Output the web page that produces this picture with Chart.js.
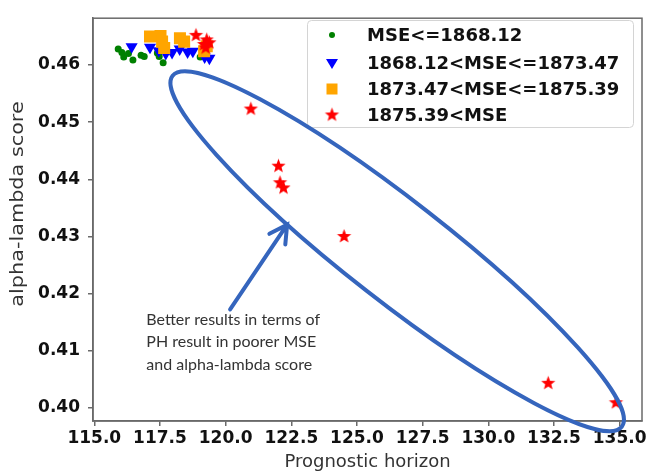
<!DOCTYPE html>
<html lang="en">
<head>
<meta charset="UTF-8">
<title>alpha-lambda score vs prognostic horizon</title>
<script src="https://cdn.jsdelivr.net/npm/chart.js"></script>
<style>
    html, body { margin: 0; padding: 0; background: #fff; }
    #wrap { width: 657px; height: 474px; }
</style>
</head>
<body>
<div id="wrap"><canvas id="scatterChart" width="657" height="474"></canvas></div>
<script>
// groups by MSE
const groupLabels = ['MSE<=1868.12', '1868.12<MSE<=1873.47', '1873.47<MSE<=1875.39', '1875.39<MSE'];

const greenX = [115.91, 116.05, 116.12, 116.30, 116.47, 116.78, 116.90, 117.40, 117.47, 117.62, 119.03];
const greenY = [0.4628, 0.4622, 0.4614, 0.4620, 0.4609, 0.4617, 0.4615, 0.4621, 0.4615, 0.4604, 0.4614];

const blueX = [116.42, 117.12, 117.45, 117.72, 117.96, 118.25, 118.55, 118.75, 119.20, 119.38];
const blueY = [0.4632, 0.4631, 0.4625, 0.4620, 0.4622, 0.4628, 0.4623, 0.4624, 0.4614, 0.4612];

const orangeX = [117.12, 117.52, 117.58, 117.66, 118.26, 118.42, 119.18, 119.28];
const orangeY = [0.4650, 0.4651, 0.4641, 0.4630, 0.4647, 0.4641, 0.4624, 0.4633];

const redX = [118.87, 119.28, 119.18, 119.38, 119.24, 120.96, 122.01, 122.07, 122.20, 124.51, 132.28, 134.86];
const redY = [0.4652, 0.4644, 0.4636, 0.4639, 0.4630, 0.4523, 0.4423, 0.4394, 0.4385, 0.4300, 0.4043, 0.4009];

// axis ticks
const xTicks = [115.0, 117.5, 120.0, 122.5, 125.0, 127.5, 130.0, 132.5, 135.0];
const yTicks = [0.40, 0.41, 0.42, 0.43, 0.44, 0.45, 0.46];

const yTitle = 'alpha-lambda score';
const noteLines = ['Better results in terms of', 'PH result in poorer MSE', 'and alpha-lambda score'];

function toPoints(xs, ys) {
    return xs.map((x, i) => ({ x: x, y: ys[i] }));
}

// filled star marker (Chart.js "star" is only lines)
function makeStar(color, r) {
    const c = document.createElement('canvas');
    const s = Math.ceil(r * 2 + 2);
    c.width = s; c.height = s;
    const g = c.getContext('2d');
    g.fillStyle = color;
    g.beginPath();
    for (let i = 0; i < 10; i++) {
        const rr = i % 2 === 0 ? r : r * 0.42;
        const a = -Math.PI / 2 + i * Math.PI / 5;
        const px = s / 2 + Math.cos(a) * rr;
        const py = s / 2 + Math.sin(a) * rr;
        if (i === 0) g.moveTo(px, py); else g.lineTo(px, py);
    }
    g.closePath();
    g.fill();
    return c;
}
const redStar = makeStar('#ff0000', 7.5);

const axisGray = '#6a6a6a';
const tickFont = { family: 'DejaVu Sans', size: 17, weight: 'bold' };

// legend box, y title, ellipse, arrow and note drawn on top
const overlayPlugin = {
    id: 'overlay',
    afterDraw(chart) {
        const ctx = chart.ctx;
        const a = chart.chartArea;
        const xs = chart.scales.x, ys = chart.scales.y;
        ctx.save();

        // top + right spines
        ctx.strokeStyle = axisGray;
        ctx.lineWidth = 1.5;
        ctx.strokeRect(a.left, a.top, a.right - a.left, a.bottom - a.top);

        // y title (stretched along its length like the reference)
        ctx.save();
        ctx.translate(18, 204);
        ctx.rotate(-Math.PI / 2);
        ctx.scale(1.155, 1);
        ctx.fillStyle = '#333';
        ctx.font = '18px "DejaVu Sans"';
        ctx.textAlign = 'center';
        ctx.textBaseline = 'middle';
        ctx.fillText(yTitle, 0, 0);
        ctx.restore();

        // legend
        const lx = 307, ly = 20, lw = 326, lh = 107;
        ctx.fillStyle = 'rgba(255,255,255,0.85)';
        ctx.strokeStyle = '#d4d4d4';
        ctx.lineWidth = 1;
        ctx.beginPath();
        ctx.roundRect(lx + 0.5, ly + 0.5, lw, lh, 4);
        ctx.fill();
        ctx.stroke();
        const rows = [35, 63, 89, 115];
        chart.data.datasets.forEach((ds, i) => {
            const mx = 332, my = rows[i];
            ctx.fillStyle = ds.backgroundColor;
            ctx.beginPath();
            if (ds.pointStyle === 'circle') {
                ctx.arc(mx, my, 3, 0, Math.PI * 2);
                ctx.fill();
            } else if (ds.pointStyle === 'triangle') {
                ctx.moveTo(mx - 6, my - 4);
                ctx.lineTo(mx + 6, my - 4);
                ctx.lineTo(mx, my + 6);
                ctx.closePath();
                ctx.fill();
            } else if (ds.pointStyle === 'rect') {
                ctx.fillRect(mx - 5.5, my - 5.5, 11, 11);
            } else {
                ctx.drawImage(ds.pointStyle, mx - ds.pointStyle.width / 2, my - ds.pointStyle.height / 2);
            }
            ctx.fillStyle = '#111';
            ctx.font = 'bold 18px "DejaVu Sans"';
            ctx.textBaseline = 'middle';
            ctx.textAlign = 'left';
            ctx.fillText(ds.label, 367, my + 1);
        });

        // note text
        ctx.fillStyle = '#333';
        ctx.font = '16px Lato';
        ctx.textBaseline = 'middle';
        const tx = xs.getPixelForValue(116.98);
        const ty = ys.getPixelForValue(0.41542);
        noteLines.forEach((t, i) => ctx.fillText(t, tx, ty + i * 22.5));

        // ellipse and arrow
        ctx.strokeStyle = '#3565bd';
        ctx.lineWidth = 4;
        ctx.lineCap = 'round';
        const cx = xs.getPixelForValue(126.53), cy = ys.getPixelForValue(0.42741);
        ctx.beginPath();
        ctx.ellipse(cx, cy, 285, 50, 38 * Math.PI / 180, 0, Math.PI * 2);
        ctx.stroke();

        const x0 = xs.getPixelForValue(120.17), y0 = ys.getPixelForValue(0.41722);
        const x1 = xs.getPixelForValue(122.34), y1 = ys.getPixelForValue(0.43207);
        const ang = Math.atan2(y1 - y0, x1 - x0);
        ctx.beginPath();
        ctx.moveTo(x0, y0);
        ctx.lineTo(x1, y1);
        ctx.moveTo(x1 - 20 * Math.cos(ang - 0.5), y1 - 20 * Math.sin(ang - 0.5));
        ctx.lineTo(x1, y1);
        ctx.lineTo(x1 - 20 * Math.cos(ang + 0.5), y1 - 20 * Math.sin(ang + 0.5));
        ctx.stroke();

        ctx.restore();
    }
};

new Chart(document.getElementById('scatterChart'), {
    type: 'scatter',
    data: {
        datasets: [
            {
                label: groupLabels[0], data: toPoints(greenX, greenY),
                pointStyle: 'circle', pointRadius: 3.5, backgroundColor: '#008000', borderWidth: 0, order: 3
            },
            {
                label: groupLabels[1], data: toPoints(blueX, blueY),
                pointStyle: 'triangle', rotation: 180, pointRadius: 7, backgroundColor: '#0000ff', borderWidth: 0, order: 2
            },
            {
                label: groupLabels[2], data: toPoints(orangeX, orangeY),
                pointStyle: 'rect', pointRadius: 8.5, backgroundColor: '#ffa500', borderWidth: 0, order: 1
            },
            {
                label: groupLabels[3], data: toPoints(redX, redY),
                pointStyle: redStar, pointRadius: 7, backgroundColor: '#ff0000', borderWidth: 0, order: 0
            }
        ]
    },
    options: {
        responsive: false,
        animation: false,
        layout: { padding: { top: 12, right: 15, left: 0, bottom: 0 } },
        plugins: {
            legend: { display: false },
            tooltip: { enabled: false }
        },
        scales: {
            x: {
                type: 'linear',
                min: 114.95,
                max: 135.85,
                afterFit: s => { s.height = 53; },
                afterBuildTicks: s => { s.ticks = xTicks.map(v => ({ value: v })); },
                ticks: {
                    color: '#111', font: tickFont, padding: 2, maxRotation: 0, autoSkip: false,
                    callback: v => v.toFixed(1)
                },
                grid: { drawOnChartArea: false, drawTicks: true, tickLength: 5, color: axisGray, lineWidth: 1.5 },
                border: { color: axisGray, width: 1.5 },
                title: {
                    display: true, text: 'Prognostic horizon', color: '#333',
                    font: { family: 'DejaVu Sans', size: 18 }, padding: { top: 0, bottom: 1 }
                }
            },
            y: {
                type: 'linear',
                min: 0.3977,
                max: 0.4682,
                afterFit: s => { s.width = 93; },
                afterBuildTicks: s => { s.ticks = yTicks.map(v => ({ value: v })); },
                ticks: {
                    color: '#111', font: tickFont, padding: 8, autoSkip: false,
                    callback: v => v.toFixed(2)
                },
                grid: { drawOnChartArea: false, drawTicks: true, tickLength: 5, color: axisGray, lineWidth: 1.5 },
                border: { color: axisGray, width: 1.5 },
                title: { display: false }
            }
        }
    },
    plugins: [overlayPlugin]
});
</script>
</body>
</html>
